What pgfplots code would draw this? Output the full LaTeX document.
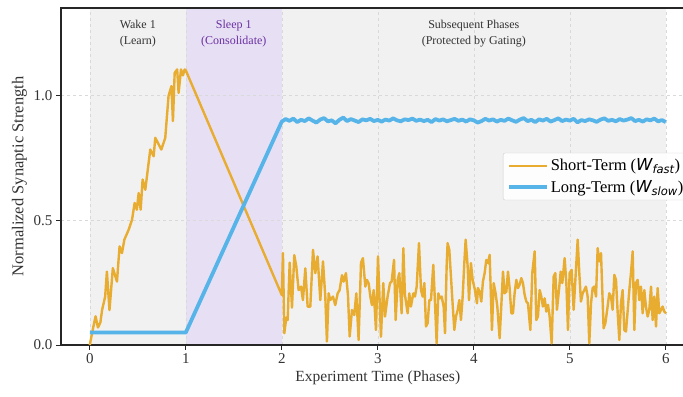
\documentclass[border=0pt]{standalone}
\usepackage{fontspec}
\setmainfont{Liberation Serif}
\newfontfamily\dejavu{DejaVu Sans}
\usepackage{pgfplots}
\pgfplotsset{compat=1.18}
\usetikzlibrary{calc}
\definecolor{cOrange}{HTML}{E8AC30}
\definecolor{cBlue}{HTML}{56B4E9}
\definecolor{cGrayBand}{HTML}{F1F1F1}
\definecolor{cSleep}{HTML}{E7E0F5}
\definecolor{cSleepText}{HTML}{6B2FA0}
\definecolor{cText}{HTML}{333333}
\begin{document}
\begin{tikzpicture}
\begin{axis}[
  set layers,
  scale only axis, width=633.6pt, height=337pt,
  xmin=-0.3, xmax=6.3, ymin=0, ymax=1.35,
  xtick={0,1,2,3,4,5,6}, ytick={0,0.5,1.0},
  yticklabel style={/pgf/number format/.cd, fixed, fixed zerofill, precision=1},
  /pgf/number format/assume math mode=true,
  tick label style={font=\fontsize{15}{17}\selectfont, text=cText},
  xlabel style={font=\fontsize{15.5}{18}\selectfont, text=cText},
  ylabel style={font=\fontsize{16.5}{18}\selectfont, text=cText},
  xlabel={Experiment Time (Phases)},
  ylabel={Normalized Synaptic Strength},
  grid=major, grid style={dashed, color=black!15, line width=0.6pt},
  tick align=outside, xtick pos=bottom, ytick pos=left,
  major tick length=5pt,
  tick style={line width=1pt, color=black!85},
  axis line style={line width=1.2pt, color=black!85},
  legend style={at={(0.992,0.5)}, anchor=east, font=\fontsize{16.5}{19}\selectfont,
    draw=black!20, rounded corners=2pt, fill=white, fill opacity=0.9, text opacity=1,
    row sep=4pt, inner xsep=4pt, inner ysep=4pt},
  legend cell align=left,
  legend image code/.code={\path (0cm,0cm) -- (1.33cm,0cm); \draw[#1] (0cm,0cm) -- (1.17cm,0cm);},
]
% background bands
\addplot[on layer=axis background, fill=cGrayBand, draw=none, forget plot] coordinates {(0,1.35) (6,1.35)} \closedcycle;
\addplot[on layer=axis background, fill=cSleep, draw=none, forget plot] coordinates {(1,1.35) (2,1.35)} \closedcycle;

% short-term weight
\addplot[color=cOrange, line width=2.4pt, line join=round] coordinates {
(0.000,0.000) (0.030,0.060) (0.060,0.115) (0.085,0.070) (0.110,0.090) (0.128,0.140)
(0.160,0.194) (0.178,0.294) (0.205,0.140) (0.240,0.308) (0.283,0.254) (0.310,0.395)
(0.335,0.368) (0.360,0.422) (0.405,0.462) (0.440,0.502) (0.467,0.569) (0.490,0.542)
(0.509,0.609) (0.530,0.542) (0.550,0.663) (0.578,0.622) (0.630,0.783) (0.665,0.756)
(0.682,0.830) (0.745,0.783) (0.786,0.830) (0.820,0.997) (0.850,1.037) (0.866,0.897)
(0.884,1.090) (0.910,1.104) (0.925,1.010) (0.950,1.104) (0.970,1.080) (0.988,1.104)
(1.000,1.100) (2.000,0.200)
(2.012,0.368) (2.026,0.047) (2.047,0.110) (2.061,0.100) (2.082,0.330) (2.106,0.150)
(2.130,0.360) (2.151,0.315) (2.175,0.220) (2.200,0.234) (2.220,0.180) (2.245,0.307)
(2.269,0.154) (2.297,0.154) (2.325,0.381) (2.349,0.288) (2.373,0.355) (2.401,0.180)
(2.429,0.335) (2.453,0.194) (2.470,0.014) (2.488,0.207) (2.505,0.180) (2.533,0.194)
(2.557,0.160) (2.582,0.207) (2.602,0.220) (2.627,0.280) (2.644,0.254) (2.668,0.288)
(2.689,0.200) (2.707,0.034) (2.731,0.140) (2.755,0.120) (2.776,0.207) (2.800,0.020)
(2.825,0.330) (2.845,0.348) (2.870,0.234) (2.887,0.261) (2.905,0.247) (2.922,0.194)
(2.939,0.160) (2.957,0.220) (2.981,0.060) (3.002,0.355)
(3.033,0.033) (3.057,0.248) (3.075,0.114) (3.102,0.194) (3.127,0.248) (3.144,0.254)
(3.169,0.341) (3.186,0.100) (3.207,0.261) (3.224,0.288) (3.248,0.127) (3.266,0.388)
(3.283,0.200) (3.311,0.127) (3.328,0.207) (3.345,0.154) (3.370,0.207) (3.387,0.194)
(3.405,0.234) (3.429,0.408) (3.450,0.220) (3.467,0.194) (3.485,0.248) (3.502,0.074)
(3.519,0.087) (3.537,0.180) (3.554,0.180) (3.578,0.321) (3.596,0.167) (3.613,0.007)
(3.630,0.207) (3.648,0.187) (3.665,0.194) (3.686,0.154) (3.700,0.047) (3.717,0.315)
(3.727,0.408) (3.745,0.381) (3.762,0.274) (3.779,0.167) (3.797,0.060) (3.814,0.114)
(3.832,0.140) (3.849,0.180) (3.866,0.100) (3.884,0.194) (3.901,0.328) (3.915,0.422)
(3.936,0.315) (3.950,0.180) (3.970,0.328) (3.988,0.261) (4.012,0.220) (4.033,0.167)
(4.043,0.228) (4.061,0.214) (4.078,0.174) (4.095,0.254) (4.113,0.288) (4.130,0.341)
(4.148,0.328) (4.165,0.361) (4.189,0.060) (4.207,0.248) (4.227,0.207) (4.245,0.154)
(4.269,0.027) (4.286,0.154) (4.304,0.294) (4.321,0.207) (4.339,0.214) (4.356,0.294)
(4.373,0.228) (4.391,0.127) (4.408,0.127) (4.425,0.207) (4.443,0.261) (4.460,0.228)
(4.477,0.241) (4.495,0.268) (4.512,0.248) (4.530,0.200) (4.547,0.174) (4.564,0.167)
(4.589,0.060) (4.609,0.288) (4.634,0.375) (4.651,0.100) (4.668,0.114) (4.686,0.220)
(4.703,0.194) (4.720,0.154) (4.738,0.187) (4.755,0.134) (4.773,0.161) (4.790,0.114)
(4.811,0.007) (4.832,0.274) (4.849,0.288) (4.866,0.141) (4.887,0.220) (4.905,0.294)
(4.922,0.248) (4.946,0.348) (4.964,0.248) (4.981,0.060) (4.998,0.288) (5.019,0.301)
(5.040,0.141)
(5.082,0.422) (5.099,0.288) (5.116,0.174) (5.134,0.207) (5.151,0.220) (5.168,0.234)
(5.186,0.194) (5.203,0.007) (5.221,0.167) (5.238,0.228) (5.255,0.234) (5.273,0.194)
(5.290,0.388) (5.307,0.335) (5.325,0.368) (5.352,0.067) (5.370,0.087) (5.394,0.154)
(5.411,0.207) (5.429,0.194) (5.446,0.141) (5.464,0.281) (5.481,0.261) (5.498,0.134)
(5.516,0.020) (5.533,0.167) (5.550,0.220) (5.568,0.060) (5.585,0.054) (5.602,0.134)
(5.620,0.220) (5.637,0.288) (5.655,0.375) (5.672,0.060) (5.689,0.248) (5.707,0.261)
(5.724,0.180) (5.741,0.234) (5.759,0.127) (5.776,0.220) (5.793,0.154) (5.811,0.114)
(5.828,0.141) (5.846,0.234) (5.863,0.100) (5.880,0.194) (5.898,0.074) (5.915,0.228)
(5.932,0.127) (5.950,0.141) (5.967,0.154) (5.984,0.134) (6.002,0.127)
};
\addlegendentry{Short-Term ({\dejavu\itshape W\textsubscript{fast}})}

% long-term weight
\addplot[color=cBlue, line width=3.8pt, line join=round] coordinates {
(0,0.05) (1,0.05)
(2.00,0.895) (2.04,0.905) (2.08,0.898) (2.12,0.907) (2.16,0.893) (2.20,0.902)
(2.24,0.897) (2.28,0.908) (2.32,0.899) (2.36,0.891) (2.40,0.903) (2.44,0.909)
(2.48,0.896) (2.52,0.900) (2.56,0.888) (2.60,0.902) (2.64,0.911) (2.68,0.897)
(2.72,0.905) (2.76,0.899) (2.80,0.893) (2.84,0.904) (2.88,0.900) (2.92,0.906)
(2.96,0.897) (3.00,0.902) (3.04,0.895) (3.08,0.903) (3.12,0.899) (3.16,0.908)
(3.20,0.900) (3.24,0.896) (3.28,0.904) (3.32,0.901) (3.36,0.907) (3.40,0.898)
(3.44,0.903) (3.48,0.897) (3.52,0.902) (3.56,0.893) (3.60,0.905) (3.64,0.899)
(3.68,0.904) (3.72,0.896) (3.76,0.901) (3.80,0.906) (3.84,0.898) (3.88,0.903)
(3.92,0.895) (3.96,0.904) (4.00,0.900) (4.04,0.891) (4.08,0.897) (4.12,0.906)
(4.16,0.899) (4.20,0.904) (4.24,0.895) (4.28,0.902) (4.32,0.898) (4.36,0.907)
(4.40,0.900) (4.44,0.894) (4.48,0.903) (4.52,0.909) (4.56,0.897) (4.60,0.902)
(4.64,0.893) (4.68,0.904) (4.72,0.899) (4.76,0.906) (4.80,0.895) (4.84,0.901)
(4.88,0.908) (4.92,0.897) (4.96,0.903) (5.00,0.899) (5.04,0.906) (5.08,0.892)
(5.12,0.901) (5.16,0.897) (5.20,0.904) (5.24,0.900) (5.28,0.894) (5.32,0.903)
(5.36,0.908) (5.40,0.898) (5.44,0.902) (5.48,0.896) (5.52,0.905) (5.56,0.899)
(5.60,0.903) (5.64,0.909) (5.68,0.897) (5.72,0.902) (5.76,0.895) (5.80,0.904)
(5.84,0.900) (5.88,0.907) (5.92,0.896) (5.96,0.901) (6.00,0.893)
};
\addlegendentry{Long-Term ({\dejavu\itshape W\textsubscript{slow}})}

\node[align=center, font=\fontsize{12}{15.5}\selectfont, text=cText] at (axis cs:0.5,1.247) {Wake 1\\(Learn)};
\node[align=center, font=\fontsize{12}{15.5}\selectfont, text=cSleepText] at (axis cs:1.5,1.247) {Sleep 1\\(Consolidate)};
\node[align=center, font=\fontsize{12}{15.5}\selectfont, text=cText] at (axis cs:4.0,1.247) {Subsequent Phases\\(Protected by Gating)};
\end{axis}
\pgfresetboundingbox
\path[use as bounding box] ($(current axis.south west)+(-61pt,-51pt)$) rectangle ($(current axis.north east)+(-11.6pt,8pt)$);
\end{tikzpicture}
\end{document}
